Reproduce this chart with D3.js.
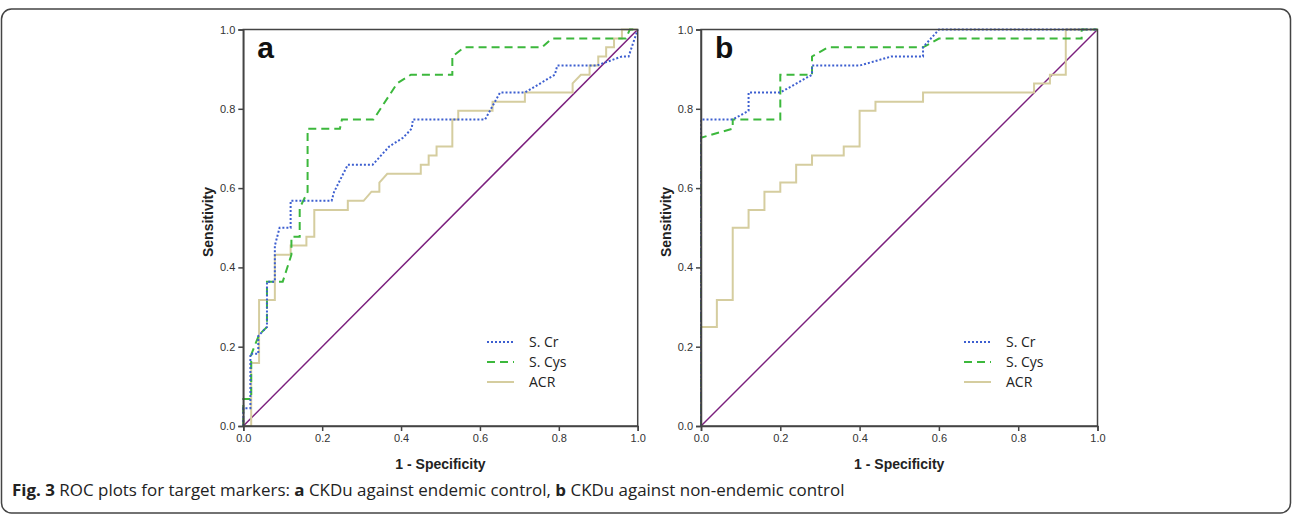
<!DOCTYPE html>
<html>
<head>
<meta charset="utf-8">
<script src="https://cdn.jsdelivr.net/npm/d3@7"></script>
<style>
  body { margin: 0; background: #fff; }
  svg { display: block; }
  .tick text { font-family: "Liberation Sans", Arial, sans-serif; font-size: 11px; fill: #333; }
  .tick line, .domain { stroke: #444; }
</style>
</head>
<body>
<div id="chart"></div>
<script>
// tick values shared by both axes
const axisTicks = [0, 0.2, 0.4, 0.6, 0.8, 1.0];
const seriesNames = ["S. Cr", "S. Cys", "ACR"];

// panel a: CKDu against endemic control  ([1 - specificity, sensitivity])
const rocA_cr = [[0,0],[0,0.045],[0.018,0.045],[0.018,0.182],[0.038,0.182],[0.038,0.227],[0.06,0.25],[0.06,0.364],
  [0.08,0.364],[0.08,0.455],[0.092,0.5],[0.12,0.5],[0.12,0.568],[0.224,0.568],[0.23,0.59],[0.265,0.659],[0.328,0.659],
  [0.37,0.705],[0.405,0.727],[0.427,0.75],[0.43,0.773],[0.613,0.773],[0.651,0.841],[0.714,0.841],[0.79,0.886],
  [0.796,0.909],[0.896,0.909],[0.96,0.932],[0.977,0.932],[1,1]];
const rocA_cys = [[0,0],[0,0.068],[0.02,0.068],[0.02,0.18],[0.04,0.23],[0.06,0.25],[0.06,0.364],[0.1,0.364],
  [0.122,0.432],[0.122,0.477],[0.143,0.477],[0.143,0.55],[0.163,0.59],[0.163,0.75],[0.245,0.75],[0.25,0.773],
  [0.33,0.773],[0.39,0.864],[0.425,0.886],[0.53,0.886],[0.53,0.932],[0.56,0.955],[0.757,0.955],[0.782,0.977],
  [0.97,0.977],[0.98,1],[1,1]];
const rocA_acr = [[0,0],[0.02,0],[0.02,0.159],[0.04,0.159],[0.04,0.318],[0.08,0.318],[0.08,0.432],[0.12,0.432],
  [0.12,0.455],[0.16,0.455],[0.16,0.477],[0.18,0.477],[0.18,0.545],[0.265,0.545],[0.265,0.568],[0.305,0.568],
  [0.325,0.591],[0.345,0.591],[0.345,0.614],[0.365,0.636],[0.45,0.636],[0.45,0.659],[0.47,0.659],[0.47,0.682],
  [0.49,0.682],[0.49,0.705],[0.53,0.705],[0.53,0.773],[0.545,0.773],[0.545,0.795],[0.632,0.795],[0.632,0.818],
  [0.714,0.818],[0.714,0.841],[0.835,0.841],[0.835,0.864],[0.856,0.886],[0.878,0.886],[0.878,0.909],[0.9,0.909],
  [0.9,0.932],[0.92,0.932],[0.92,0.955],[0.94,0.955],[0.94,0.977],[0.96,0.977],[0.96,1],[1,1]];

// panel b: CKDu against non-endemic control
const rocB_cr = [[0,0],[0,0.773],[0.08,0.773],[0.12,0.795],[0.12,0.841],[0.2,0.841],[0.28,0.886],[0.28,0.909],
  [0.4,0.909],[0.48,0.932],[0.56,0.932],[0.56,0.955],[0.6,1],[1,1]];
const rocB_cys = [[0,0],[0,0.727],[0.08,0.75],[0.08,0.773],[0.2,0.773],[0.2,0.886],[0.28,0.886],[0.28,0.932],
  [0.32,0.955],[0.56,0.955],[0.6,0.977],[0.96,0.977],[0.96,1],[1,1]];
const rocB_acr = [[0,0],[0,0.25],[0.04,0.25],[0.04,0.318],[0.08,0.318],[0.08,0.5],[0.12,0.5],[0.12,0.545],
  [0.16,0.545],[0.16,0.591],[0.2,0.591],[0.2,0.614],[0.24,0.614],[0.24,0.659],[0.28,0.659],[0.28,0.682],
  [0.36,0.682],[0.36,0.705],[0.4,0.705],[0.4,0.795],[0.44,0.795],[0.44,0.818],[0.56,0.818],[0.56,0.841],
  [0.84,0.841],[0.84,0.864],[0.88,0.864],[0.88,0.886],[0.92,0.886],[0.92,1],[1,1]];

const reference = [[0,0],[1,1]];

const width = 1292;
const height = 516;

const svg = d3.select("#chart").append("svg")
    .attr("width", width)
    .attr("height", height);

// outer frame round the figure
svg.append("rect")
    .attr("x", 1.5)
    .attr("y", 9)
    .attr("width", width - 3)
    .attr("height", 504)
    .attr("rx", 10)
    .attr("fill", "none")
    .attr("stroke", "#444")
    .attr("stroke-width", 1.5);

const styles = [
    { color: "#3d5fd0", dash: "2,2", width: 2 },
    { color: "#3cb83c", dash: "8,5", width: 2 },
    { color: "#d5cd9f", dash: null, width: 2 }
];

const panels = [
    { label: "a", left: 243.3, right: 637.7, series: [rocA_cr, rocA_cys, rocA_acr], legendX: 487 },
    { label: "b", left: 701, right: 1097.5, series: [rocB_cr, rocB_cys, rocB_acr], legendX: 964 }
];

const plotTop = 29.5, plotBottom = 426;

panels.forEach(p => {
    const x = d3.scaleLinear().domain([0, 1]).range([p.left, p.right]);
    const y = d3.scaleLinear().domain([0, 1]).range([plotBottom, plotTop]);
    const g = svg.append("g");

    const line = d3.line()
        .x(d => x(d[0]))
        .y(d => y(d[1]));

    // diagonal reference line
    g.append("path")
        .datum(reference)
        .attr("d", line)
        .attr("fill", "none")
        .attr("stroke", "#7b1f7d")
        .attr("stroke-width", 1.5);

    // draw ACR first, then S. Cys, then S. Cr on top
    [2, 1, 0].forEach(i => {
        g.append("path")
            .datum(p.series[i])
            .attr("d", line)
            .attr("fill", "none")
            .attr("stroke", styles[i].color)
            .attr("stroke-width", styles[i].width)
            .attr("stroke-dasharray", styles[i].dash);
    });

    // box round the plot area
    g.append("rect")
        .attr("x", p.left)
        .attr("y", plotTop)
        .attr("width", p.right - p.left)
        .attr("height", plotBottom - plotTop)
        .attr("fill", "none")
        .attr("stroke", "#444")
        .attr("stroke-width", 1.5);

    g.append("g")
        .attr("transform", `translate(0,${plotBottom})`)
        .call(d3.axisBottom(x).tickValues(axisTicks).tickSize(5).tickPadding(3).tickFormat(d3.format(".1f")))
        .call(a => a.select(".domain").attr("stroke-width", 1.5))
        .call(a => a.selectAll(".tick line").attr("stroke-width", 1.5));

    g.append("g")
        .attr("transform", `translate(${p.left},0)`)
        .call(d3.axisLeft(y).tickValues(axisTicks).tickSize(5).tickPadding(3).tickFormat(d3.format(".1f")))
        .call(a => a.select(".domain").attr("stroke-width", 1.5))
        .call(a => a.selectAll(".tick line").attr("stroke-width", 1.5));

    // axis titles
    g.append("text")
        .attr("x", (p.left + p.right) / 2)
        .attr("y", 469)
        .attr("text-anchor", "middle")
        .style("font-family", "'Liberation Sans', Arial, sans-serif")
        .style("font-size", "14px")
        .style("font-weight", "bold")
        .attr("fill", "#222")
        .text("1 - Specificity");

    g.append("text")
        .attr("transform", `translate(${p.left - 30},222) rotate(-90)`)
        .attr("text-anchor", "middle")
        .style("font-family", "'Liberation Sans', Arial, sans-serif")
        .style("font-size", "14px")
        .style("font-weight", "bold")
        .attr("fill", "#222")
        .text("Sensitivity");

    // panel letter
    g.append("text")
        .attr("x", p.left + 14)
        .attr("y", 58)
        .style("font-family", "'Liberation Sans', Arial, sans-serif")
        .style("font-size", "30px")
        .style("font-weight", "bold")
        .attr("fill", "#111")
        .text(p.label);

    // legend
    const legend = g.append("g").attr("transform", `translate(${p.legendX},342)`);
    seriesNames.forEach((name, i) => {
        legend.append("line")
            .attr("x1", 0).attr("x2", 27)
            .attr("y1", i * 20).attr("y2", i * 20)
            .attr("stroke", styles[i].color)
            .attr("stroke-width", 2)
            .attr("stroke-dasharray", styles[i].dash);
        legend.append("text")
            .attr("x", 42)
            .attr("y", i * 20 + 5)
            .style("font-family", "'Open Sans', sans-serif")
            .style("font-size", "14px")
            .attr("fill", "#222")
            .text(name);
    });
});

// caption
const caption = svg.append("text")
    .attr("x", 12)
    .attr("y", 496)
    .style("font-family", "'Open Sans', sans-serif")
    .style("font-size", "16px")
    .attr("fill", "#222");
caption.append("tspan").style("font-weight", "bold").text("Fig. 3");
caption.append("tspan").text(" ROC plots for target markers: ");
caption.append("tspan").style("font-weight", "bold").text("a");
caption.append("tspan").text(" CKDu against endemic control, ");
caption.append("tspan").style("font-weight", "bold").text("b");
caption.append("tspan").text(" CKDu against non-endemic control");

// squeeze the caption to the narrow width of the original typeface
const capWidth = caption.node().getComputedTextLength();
const targetWidth = 833;
caption.attr("transform", `translate(12,0) scale(${targetWidth / capWidth},1) translate(-12,0)`);
</script>
</body>
</html>
